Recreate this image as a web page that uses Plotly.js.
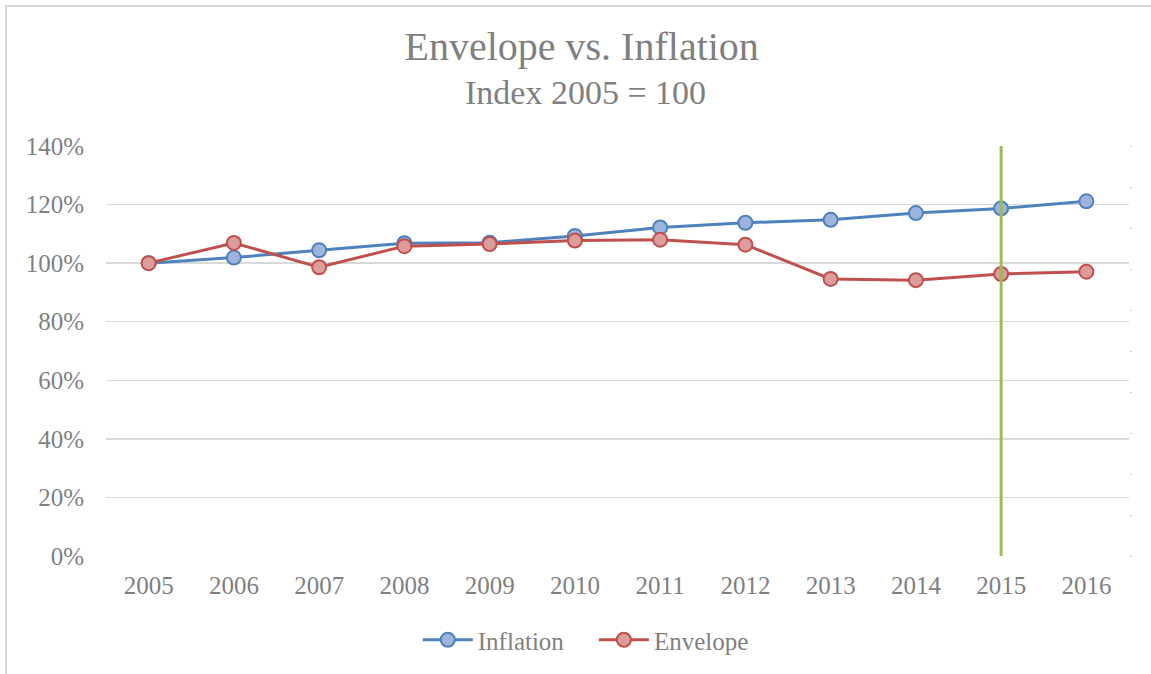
<!DOCTYPE html>
<html>
<head>
<meta charset="utf-8">
<script src="https://cdn.plot.ly/plotly-3.0.1.min.js"></script>
<style>
  html, body { margin: 0; padding: 0; background: #fff; }
  #wrap { position: relative; width: 1151px; height: 674px; }
  #chart { position: absolute; left: 0; top: 0; width: 1151px; height: 674px; }
  #frameL { position: absolute; left: 5px; top: 5px; width: 2px; height: 669px; background: #d9d9d9; z-index: 2; }
  #frameT { position: absolute; left: 5px; top: 5px; width: 1146px; height: 2px; background: #d9d9d9; z-index: 2; }
</style>
</head>
<body>
<div id="wrap">
  <div id="chart"></div>
  <div id="frameL"></div>
  <div id="frameT"></div>
</div>
<script>
const years = ['2005','2006','2007','2008','2009','2010','2011','2012','2013','2014','2015','2016'];
const inflation = [1.000, 1.019, 1.044, 1.068, 1.070, 1.093, 1.122, 1.138, 1.148, 1.171, 1.187, 1.211];
const envelope  = [1.000, 1.069, 0.986, 1.058, 1.065, 1.077, 1.080, 1.063, 0.946, 0.942, 0.963, 0.971];
const seriesNames = ['Inflation', 'Envelope'];
const markerYear = '2015';
const markerSpan = [0, 1];
const yTicks = [0, 0.2, 0.4, 0.6, 0.8, 1.0, 1.2, 1.4];

const FONT = 'Liberation Serif, DejaVu Serif, serif';
const GREY = '#7f7f7f';
const PAD = '\u00a0\u00a0\u00a0\u00a0';

const traces = [
  {
    x: years, y: inflation, name: seriesNames[0] + PAD, type: 'scatter', mode: 'lines+markers',
    line: {color: '#4f81bd', width: 3},
    marker: {size: 14, color: '#9db5dc', line: {color: '#4f81bd', width: 2}}
  },
  {
    x: years, y: envelope, name: seriesNames[1], type: 'scatter', mode: 'lines+markers',
    line: {color: '#c0504d', width: 3},
    marker: {size: 14, color: '#dc9d9b', line: {color: '#c0504d', width: 2}}
  },
  {
    x: [markerYear, markerYear], y: markerSpan, yaxis: 'y2', type: 'scatter', mode: 'lines',
    line: {color: '#9bbb59', width: 3}, showlegend: false, hoverinfo: 'skip'
  }
];

const layout = {
  width: 1151, height: 674,
  margin: {l: 106, r: 22, t: 146, b: 117},
  paper_bgcolor: '#fff', plot_bgcolor: '#fff',
  font: {family: FONT, color: GREY, size: 25},
  title: {
    text: 'Envelope vs. Inflation',
    font: {family: FONT, size: 40, color: GREY},
    x: 0.465, xanchor: 'center', xref: 'paper',
    y: 1 - 46 / 674, yanchor: 'middle', yref: 'container'
  },
  annotations: [{
    text: 'Index 2005 = 100', showarrow: false,
    xref: 'paper', yref: 'paper', x: 0.469, xanchor: 'center',
    y: (557 - 92) / 411, yanchor: 'middle',
    font: {family: FONT, size: 34, color: GREY}
  }],
  xaxis: {
    type: 'category', range: [-0.5, 11.5],
    showgrid: false, zeroline: false, showline: false, ticks: '',
    tickfont: {family: FONT, size: 25, color: GREY},
    ticklabelstandoff: 12, fixedrange: true
  },
  yaxis: {
    range: [0, 1.4], tickvals: yTicks, tickformat: '.0%',
    showgrid: true, gridcolor: '#d9d9d9', gridwidth: 1.5,
    zeroline: false, showline: false, ticks: '',
    tickfont: {family: FONT, size: 25, color: GREY},
    ticklabelstandoff: 21, fixedrange: true
  },
  yaxis2: {
    overlaying: 'y', side: 'right', range: [0, 1], dtick: 0.1,
    showgrid: false, zeroline: false, showline: false,
    ticks: 'outside', ticklen: 2, tickwidth: 1, tickcolor: '#d0d0d0',
    showticklabels: false, fixedrange: true
  },
  showlegend: true,
  legend: {
    orientation: 'h', x: 0.469, xanchor: 'center', xref: 'paper',
    y: (557 - 640) / 411, yanchor: 'middle',
    font: {family: FONT, size: 25, color: GREY},
    traceorder: 'normal', itemwidth: 50
  }
};

Plotly.newPlot('chart', traces, layout, {displayModeBar: false, staticPlot: true});
</script>
</body>
</html>
